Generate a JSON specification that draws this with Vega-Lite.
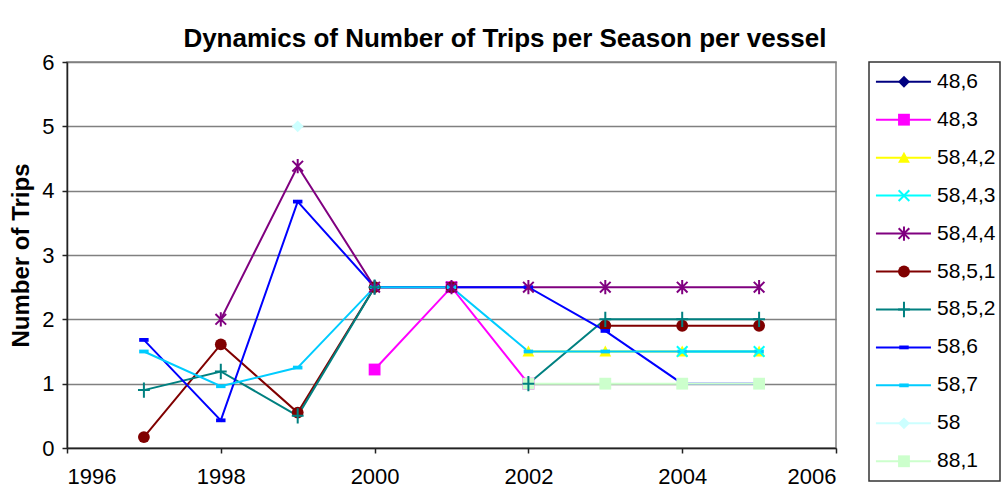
{
  "$schema": "https://vega.github.io/schema/vega-lite/v6.json",
  "padding": {"left": 9, "top": 26, "right": 0, "bottom": 0},
  "background": "white",
  "bounds": "flush",
  "spacing": 33,
  "config": {
    "font": "Liberation Sans",
    "axis": {
      "labelFont": "Liberation Sans",
      "titleFont": "Liberation Sans",
      "labelFontSize": 22,
      "labelColor": "black",
      "titleColor": "black",
      "domainColor": "#222222",
      "domainWidth": 1.5,
      "tickColor": "#222222",
      "tickWidth": 1.5,
      "tickSize": 5,
      "gridColor": "#808080",
      "gridWidth": 1.5
    }
  },
  "title": {
    "text": "Dynamics of Number of Trips per Season per vessel",
    "font": "Liberation Sans",
    "fontSize": 26,
    "fontWeight": "bold",
    "color": "black",
    "anchor": "middle",
    "offset": -2
  },
  "datasets": {
    "trips": [
      {"series": "48,3", "year": 2000, "trips": 1.22},
      {"series": "48,3", "year": 2001, "trips": 2.5},
      {"series": "48,3", "year": 2002, "trips": 1.0},
      {"series": "58,4,2", "year": 2002, "trips": 1.5},
      {"series": "58,4,2", "year": 2003, "trips": 1.5},
      {"series": "58,4,2", "year": 2004, "trips": 1.5},
      {"series": "58,4,2", "year": 2005, "trips": 1.5},
      {"series": "58,4,3", "year": 2004, "trips": 1.5},
      {"series": "58,4,3", "year": 2005, "trips": 1.5},
      {"series": "58,4,4", "year": 1998, "trips": 2.0},
      {"series": "58,4,4", "year": 1999, "trips": 4.38},
      {"series": "58,4,4", "year": 2000, "trips": 2.5},
      {"series": "58,4,4", "year": 2001, "trips": 2.5},
      {"series": "58,4,4", "year": 2002, "trips": 2.5},
      {"series": "58,4,4", "year": 2003, "trips": 2.5},
      {"series": "58,4,4", "year": 2004, "trips": 2.5},
      {"series": "58,4,4", "year": 2005, "trips": 2.5},
      {"series": "58,5,1", "year": 1997, "trips": 0.17},
      {"series": "58,5,1", "year": 1998, "trips": 1.61},
      {"series": "58,5,1", "year": 1999, "trips": 0.55},
      {"series": "58,5,1", "year": 2000, "trips": 2.5},
      {"series": "58,5,1", "year": 2001, "trips": 2.5},
      {"series": "58,5,1", "year": 2002, "trips": null},
      {"series": "58,5,1", "year": 2003, "trips": 1.9},
      {"series": "58,5,1", "year": 2004, "trips": 1.9},
      {"series": "58,5,1", "year": 2005, "trips": 1.9},
      {"series": "58,5,2", "year": 1997, "trips": 0.9},
      {"series": "58,5,2", "year": 1998, "trips": 1.19},
      {"series": "58,5,2", "year": 1999, "trips": 0.5},
      {"series": "58,5,2", "year": 2000, "trips": 2.5},
      {"series": "58,5,2", "year": 2001, "trips": null},
      {"series": "58,5,2", "year": 2002, "trips": 1.0},
      {"series": "58,5,2", "year": 2003, "trips": 2.0},
      {"series": "58,5,2", "year": 2004, "trips": 2.0},
      {"series": "58,5,2", "year": 2005, "trips": 2.0},
      {"series": "58,6", "year": 1997, "trips": 1.68},
      {"series": "58,6", "year": 1998, "trips": 0.43},
      {"series": "58,6", "year": 1999, "trips": 3.83},
      {"series": "58,6", "year": 2000, "trips": 2.5},
      {"series": "58,6", "year": 2001, "trips": 2.5},
      {"series": "58,6", "year": 2002, "trips": 2.5},
      {"series": "58,6", "year": 2003, "trips": 1.82},
      {"series": "58,6", "year": 2004, "trips": 1.0},
      {"series": "58,6", "year": 2005, "trips": 1.0},
      {"series": "58,7", "year": 1997, "trips": 1.5},
      {"series": "58,7", "year": 1998, "trips": 0.96},
      {"series": "58,7", "year": 1999, "trips": 1.25},
      {"series": "58,7", "year": 2000, "trips": 2.5},
      {"series": "58,7", "year": 2001, "trips": 2.5},
      {"series": "58,7", "year": 2002, "trips": 1.5},
      {"series": "58,7", "year": 2003, "trips": 1.5},
      {"series": "58,7", "year": 2004, "trips": 1.5},
      {"series": "58,7", "year": 2005, "trips": 1.5},
      {"series": "58", "year": 1999, "trips": 5.0},
      {"series": "88,1", "year": 2002, "trips": 1.0},
      {"series": "88,1", "year": 2003, "trips": 1.0},
      {"series": "88,1", "year": 2004, "trips": 1.0},
      {"series": "88,1", "year": 2005, "trips": 1.0}
    ],
    "legend": [
      {"series": "48,6"},
      {"series": "48,3"},
      {"series": "58,4,2"},
      {"series": "58,4,3"},
      {"series": "58,4,4"},
      {"series": "58,5,1"},
      {"series": "58,5,2"},
      {"series": "58,6"},
      {"series": "58,7"},
      {"series": "58"},
      {"series": "88,1"}
    ]
  },
  "hconcat": [
    {
      "width": 769,
      "height": 386,
      "view": {"stroke": "#808080", "strokeWidth": 1.5},
      "data": {"name": "trips"},
      "encoding": {
        "x": {
          "field": "year",
          "type": "quantitative",
          "scale": {"domain": [1996, 2006], "nice": false, "zero": false},
          "axis": {"values": [1996, 1998, 2000, 2002, 2004, 2006], "format": "d", "title": null, "grid": false, "labelPadding": 13, "labelFontSize": 22}
        },
        "y": {
          "field": "trips",
          "type": "quantitative",
          "scale": {"domain": [0, 6], "nice": false},
          "axis": {"values": [0, 1, 2, 3, 4, 5, 6], "title": "Number of Trips", "titleFontSize": 24, "titleFontWeight": "bold", "titlePadding": 8, "grid": true, "labelPadding": 8, "labelFontSize": 22}
        },
        "color": {
          "field": "series",
          "type": "nominal",
          "scale": {
            "domain": ["48,6", "48,3", "58,4,2", "58,4,3", "58,4,4", "58,5,1", "58,5,2", "58,6", "58,7", "58", "88,1"],
            "range": ["#000080", "#FF00FF", "#FFFF00", "#00FFFF", "#800080", "#800000", "#008080", "#0000FF", "#00CCFF", "#CCFFFF", "#CCFFCC"]
          },
          "legend": null
        }
      },
      "layer": [
        {"mark": {"type": "line", "strokeWidth": 2, "invalid": "break-paths-show-path-domains"}},
        {
          "transform": [{"filter": {"not": {"field": "series", "oneOf": ["58,4,3", "58,4,4", "58,5,2"]}}}],
          "mark": {"type": "point", "filled": true, "size": 140, "opacity": 1},
          "encoding": {
            "shape": {
              "field": "series",
              "type": "nominal",
              "scale": {
                "domain": ["48,6", "48,3", "58,4,2", "58,4,3", "58,4,4", "58,5,1", "58,5,2", "58,6", "58,7", "58", "88,1"],
                "range": ["M0,-1L1,0L0,1L-1,0Z", "square", "M0,-1L1,0.85L-1,0.85Z", "M-0.9,-0.9L0.9,0.9M-0.9,0.9L0.9,-0.9", "M-0.9,-0.9L0.9,0.9M-0.9,0.9L0.9,-0.9M0,-1.2L0,1.2", "circle", "M-1,0L1,0M0,-1.3L0,1.3", "M-0.8,-0.32H0.8V0.32H-0.8Z", "M-0.8,-0.32H0.8V0.32H-0.8Z", "M0,-1L1,0L0,1L-1,0Z", "square"]
              },
              "legend": null
            }
          }
        },
        {
          "transform": [{"filter": {"field": "series", "oneOf": ["58,4,3", "58,4,4", "58,5,2"]}}],
          "mark": {"type": "point", "filled": false, "size": 140, "strokeWidth": 2, "opacity": 1},
          "encoding": {
            "shape": {
              "field": "series",
              "type": "nominal",
              "scale": {
                "domain": ["48,6", "48,3", "58,4,2", "58,4,3", "58,4,4", "58,5,1", "58,5,2", "58,6", "58,7", "58", "88,1"],
                "range": ["M0,-1L1,0L0,1L-1,0Z", "square", "M0,-1L1,0.85L-1,0.85Z", "M-0.9,-0.9L0.9,0.9M-0.9,0.9L0.9,-0.9", "M-0.9,-0.9L0.9,0.9M-0.9,0.9L0.9,-0.9M0,-1.2L0,1.2", "circle", "M-1,0L1,0M0,-1.3L0,1.3", "M-0.8,-0.32H0.8V0.32H-0.8Z", "M-0.8,-0.32H0.8V0.32H-0.8Z", "M0,-1L1,0L0,1L-1,0Z", "square"]
              },
              "legend": null
            }
          }
        }
      ]
    },
    {
      "width": 131,
      "height": 419,
      "view": {"stroke": "#333333", "strokeWidth": 1.5},
      "data": {"name": "legend"},
      "encoding": {
        "y": {
          "field": "series",
          "type": "nominal",
          "scale": {"type": "point", "domain": ["48,6", "48,3", "58,4,2", "58,4,3", "58,4,4", "58,5,1", "58,5,2", "58,6", "58,7", "58", "88,1"], "padding": 0.52},
          "axis": null
        },
        "color": {
          "field": "series",
          "type": "nominal",
          "scale": {
            "domain": ["48,6", "48,3", "58,4,2", "58,4,3", "58,4,4", "58,5,1", "58,5,2", "58,6", "58,7", "58", "88,1"],
            "range": ["#000080", "#FF00FF", "#FFFF00", "#00FFFF", "#800080", "#800000", "#008080", "#0000FF", "#00CCFF", "#CCFFFF", "#CCFFCC"]
          },
          "legend": null
        }
      },
      "layer": [
        {
          "mark": {"type": "rule", "strokeWidth": 2},
          "encoding": {
            "x": {"datum": 0.053, "type": "quantitative", "scale": {"domain": [0, 1]}, "axis": null},
            "x2": {"datum": 0.473}
          }
        },
        {
          "transform": [{"filter": {"not": {"field": "series", "oneOf": ["58,4,3", "58,4,4", "58,5,2"]}}}],
          "mark": {"type": "point", "filled": true, "size": 140, "opacity": 1},
          "encoding": {
            "x": {"datum": 0.267, "type": "quantitative"},
            "shape": {
              "field": "series",
              "type": "nominal",
              "scale": {
                "domain": ["48,6", "48,3", "58,4,2", "58,4,3", "58,4,4", "58,5,1", "58,5,2", "58,6", "58,7", "58", "88,1"],
                "range": ["M0,-1L1,0L0,1L-1,0Z", "square", "M0,-1L1,0.85L-1,0.85Z", "M-0.9,-0.9L0.9,0.9M-0.9,0.9L0.9,-0.9", "M-0.9,-0.9L0.9,0.9M-0.9,0.9L0.9,-0.9M0,-1.2L0,1.2", "circle", "M-1,0L1,0M0,-1.3L0,1.3", "M-0.8,-0.32H0.8V0.32H-0.8Z", "M-0.8,-0.32H0.8V0.32H-0.8Z", "M0,-1L1,0L0,1L-1,0Z", "square"]
              },
              "legend": null
            }
          }
        },
        {
          "transform": [{"filter": {"field": "series", "oneOf": ["58,4,3", "58,4,4", "58,5,2"]}}],
          "mark": {"type": "point", "filled": false, "size": 140, "strokeWidth": 2, "opacity": 1},
          "encoding": {
            "x": {"datum": 0.267, "type": "quantitative"},
            "shape": {
              "field": "series",
              "type": "nominal",
              "scale": {
                "domain": ["48,6", "48,3", "58,4,2", "58,4,3", "58,4,4", "58,5,1", "58,5,2", "58,6", "58,7", "58", "88,1"],
                "range": ["M0,-1L1,0L0,1L-1,0Z", "square", "M0,-1L1,0.85L-1,0.85Z", "M-0.9,-0.9L0.9,0.9M-0.9,0.9L0.9,-0.9", "M-0.9,-0.9L0.9,0.9M-0.9,0.9L0.9,-0.9M0,-1.2L0,1.2", "circle", "M-1,0L1,0M0,-1.3L0,1.3", "M-0.8,-0.32H0.8V0.32H-0.8Z", "M-0.8,-0.32H0.8V0.32H-0.8Z", "M0,-1L1,0L0,1L-1,0Z", "square"]
              },
              "legend": null
            }
          }
        },
        {
          "mark": {"type": "text", "align": "left", "baseline": "middle", "fontSize": 21, "font": "Liberation Sans"},
          "encoding": {
            "x": {"datum": 0.52, "type": "quantitative"},
            "text": {"field": "series"},
            "color": {"value": "black"}
          }
        }
      ]
    }
  ]
}
